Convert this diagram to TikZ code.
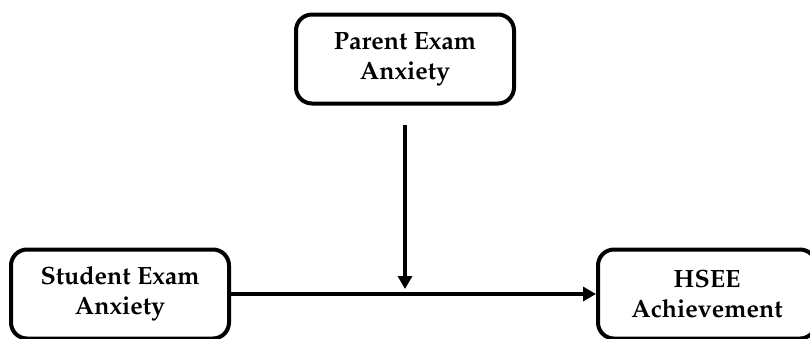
\documentclass[tikz,border=0pt]{standalone}
\usepackage[T1]{fontenc}
\usepackage{mathpazo}
\usetikzlibrary{
  arrows.meta,
  calc
}
\tikzset{
  >={Triangle[length=6.5pt,width=7pt]},
  factor/.style={
    draw, line width=2pt, rounded corners=8pt,
    minimum width=109pt, minimum height=44.5pt,
    align=center, font=\bfseries\fontsize{12.5}{15}\selectfont
  },
  path line/.style={->, line width=1.8pt}
}

\begin{document}
\begin{tikzpicture}[x=0.5pt,y=-0.5pt]
\useasboundingbox (0,0) rectangle (810,338);
\node[factor] (parent) at (405,59) {Parent Exam\\Anxiety};
\node[factor] (student) at (120,294) {Student Exam\\Anxiety};
\node[factor] (hsee) at (707,294) {HSEE\\Achievement};
\coordinate (meet) at (parent.south |- student.east);
\draw[path line] (student) -- (hsee);
\draw[path line, shorten <=9.5pt, shorten >=2.5pt] (parent) -- (meet);
\end{tikzpicture}
\end{document}
